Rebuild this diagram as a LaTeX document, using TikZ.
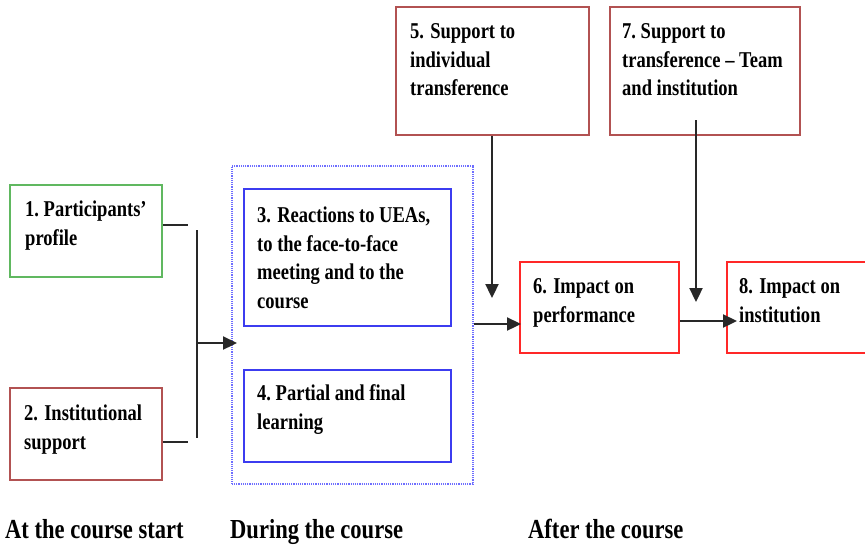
\documentclass[tikz,border=0pt]{standalone}
\usepackage{fontspec}
\setmainfont{Liberation Serif}[FakeStretch=0.82]
\usetikzlibrary{arrows.meta}
\definecolor{cgreen}{RGB}{96,184,96}
\definecolor{cbrown}{RGB}{178,82,82}
\definecolor{cblue}{RGB}{60,60,240}
\definecolor{clightblue}{RGB}{110,110,255}
\definecolor{cred}{RGB}{255,40,40}
\definecolor{cline}{RGB}{40,40,40}
\tikzset{
  box/.style={draw, line width=2pt, inner sep=0pt, anchor=north west},
  txt/.style={anchor=north west, inner sep=0pt, align=left,
              font=\bfseries\fontsize{22.6}{28.8}\selectfont},
  phase/.style={anchor=base west, inner sep=0pt,
              font=\bfseries\fontsize{27.5}{30}\selectfont},
  conn/.style={draw=cline, line width=2.3pt},
  arr/.style={conn, -{Triangle[length=14pt,width=13pt]}}
}
\begin{document}
\begin{tikzpicture}[x=1pt,y=-1pt]
\useasboundingbox (0,0) rectangle (865,547);
% container
\node[box, draw=clightblue, line width=1.5pt, dash pattern=on 1.2pt off 1pt, minimum width=241pt, minimum height=318pt] (cont) at (231,165) {};
% boxes
\node[box, draw=cgreen, minimum width=152pt, minimum height=92pt] (b1) at (9,184) {};
\node[box, draw=cbrown, minimum width=152pt, minimum height=92pt] (b2) at (9,387) {};
\node[box, draw=cblue, minimum width=207pt, minimum height=137pt] (b3) at (243,188) {};
\node[box, draw=cblue, minimum width=207pt, minimum height=92pt] (b4) at (243,369) {};
\node[box, draw=cbrown, minimum width=193pt, minimum height=128pt] (b5) at (395,6) {};
\node[box, draw=cred, minimum width=159pt, minimum height=91pt] (b6) at (519,261) {};
\node[box, draw=cbrown, minimum width=190pt, minimum height=128pt] (b7) at (609,6) {};
\node[box, draw=cred, minimum width=145pt, minimum height=91pt] (b8) at (726,261) {};
% texts
\node[txt] (t1) at (25,196) {\strut 1.\ Participants’\\profile};
\node[txt] (t2) at (24,400) {\strut 2. Institutional\\support};
\node[txt] (t3) at (257,202) {\strut 3. Reactions to UEAs,\\to the face-to-face\\meeting and to the\\course};
\node[txt] (t4) at (257,380) {\strut 4.\ Partial and final\\learning};
\node[txt] (t5) at (410,18) {\strut 5. Support to\\individual\\transference};
\node[txt] (t6) at (533,273) {\strut 6. Impact on\\performance};
\node[txt] (t7) at (622,18) {\strut 7.\ Support to\\transference -- Team\\and institution};
\node[txt] (t8) at (739,273) {\strut 8. Impact on\\institution};
% phase labels
\node[phase] (p1) at (5,538) {At the course start};
\node[phase] (p2) at (230,538) {During the course};
\node[phase] (p3) at (528,538) {After the course};
% connectors
\coordinate (j1) at (188,225);
\coordinate (j2) at (188,442);
\coordinate (v1) at (197,230);
\coordinate (v2) at (197,438);
\coordinate (vm) at (197,343);
\draw[conn] (b1.east |- j1) -- (j1);
\draw[conn] (b2.east |- j2) -- (j2);
\draw[conn] (v1) -- (v2);
\draw[arr] (vm) -- ([xshift=6pt]cont.west |- vm);
\coordinate (k6) at (521,324);
\draw[arr] (cont.east |- k6) -- (k6);
\coordinate (a5) at (492,298);
\draw[arr] (b5.south -| a5) -- (a5);
\coordinate (s7) at (696,120);
\coordinate (a7) at (696,302);
\draw[arr] (s7) -- (a7);
\coordinate (k8) at (737,321);
\draw[arr] (b6.east |- k8) -- (k8);
\end{tikzpicture}
\end{document}
